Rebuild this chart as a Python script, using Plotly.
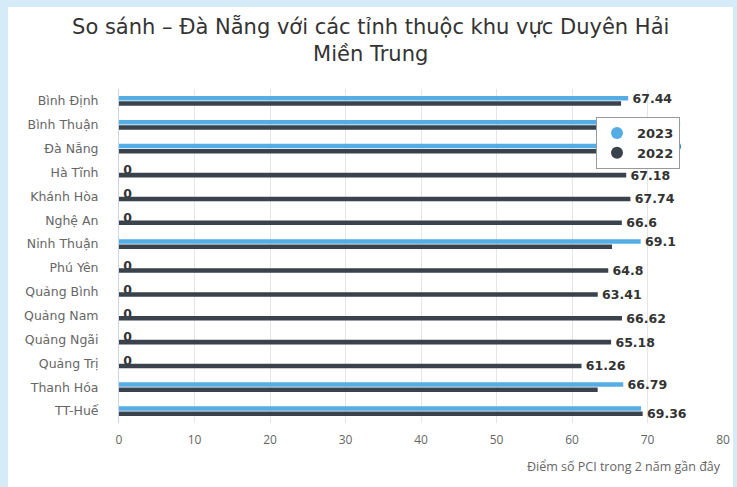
import plotly.graph_objects as go

categories = ["Bình Định", "Bình Thuận", "Đà Nẵng", "Hà Tĩnh", "Khánh Hòa", "Nghệ An",
              "Ninh Thuận", "Phú Yên", "Quảng Bình", "Quảng Nam", "Quảng Ngãi",
              "Quảng Trị", "Thanh Hóa", "TT-Huế"]
v2023 = [67.44, 68.56, 68.69, 0, 0, 0, 69.1, 0, 0, 0, 0, 0, 66.79, 69.15]
v2022 = [66.5, 66.9, 67.2, 67.18, 67.74, 66.6, 65.3, 64.8, 63.41, 66.62, 65.18, 61.26, 63.4, 69.36]
x_ticks = [0, 10, 20, 30, 40, 50, 60, 70, 80]

title_text = "So sánh – Đà Nẵng với các tỉnh thuộc khu vực Duyên Hải<br>Miền Trung"
x_title = "Điểm số PCI trong 2 năm gần đây"

C23 = "#55ade6"
C22 = "#3a424b"

NB = "\u00a0"

def fmt(v):
    return NB + f"{v:g}"

# Overlapping labels: when both bars are non-zero, only the longer one keeps its label
t23, t22 = [], []
for a, b in zip(v2023, v2022):
    if a == 0 or b == 0:
        t23.append(fmt(a))
        t22.append(fmt(b))
    elif a >= b:
        t23.append(fmt(a))
        t22.append("")
    else:
        t23.append("")
        t22.append(fmt(b))

label_font = dict(family="DejaVu Sans", size=12.5, color="#333333", weight="bold")

fig = go.Figure()
fig.add_trace(go.Bar(y=categories, x=v2023, orientation="h", name="2023",
                     marker=dict(color=C23, line=dict(width=0)),
                     text=t23, textposition="outside", textfont=label_font,
                     constraintext="none", cliponaxis=False, showlegend=False))
fig.add_trace(go.Bar(y=categories, x=v2022, orientation="h", name="2022",
                     marker=dict(color=C22, line=dict(width=0)),
                     text=t22, textposition="outside", textfont=label_font,
                     constraintext="none", cliponaxis=False, showlegend=False))
# legend entries with circle symbols
fig.add_trace(go.Scatter(x=[None], y=[None], mode="markers", name="2023",
                         marker=dict(color=C23, size=12, symbol="circle")))
fig.add_trace(go.Scatter(x=[None], y=[None], mode="markers", name="2022",
                         marker=dict(color=C22, size=12, symbol="circle")))

L, R, T, B = 119, 14, 89, 64
W, H = 737, 487
pw, ph = W - L - R, H - T - B

def px_x(p):
    return (p - L) / pw

def px_y(p):
    return (H - B - p) / ph

fig.update_layout(
    width=W, height=H,
    margin=dict(l=L, r=R, t=T, b=B, pad=0),
    paper_bgcolor="#d6ebf8",
    plot_bgcolor="rgba(0,0,0,0)",
    barmode="group", bargap=0.56, bargroupgap=0.14,
    title=dict(text=title_text, x=0.503, xanchor="center", xref="container",
               y=1 - 34 / H, yanchor="top", yref="container",
               font=dict(family="DejaVu Sans", size=21, color="#333333")),
    font=dict(family="DejaVu Sans"),
    xaxis=dict(range=[0, 80], tickvals=x_ticks, ticktext=[str(v) for v in x_ticks],
               showgrid=True, gridcolor="#e6e6e6", gridwidth=1, zeroline=False,
               showline=False, ticks="", ticklabelstandoff=8, automargin=False,
               tickfont=dict(family="Open Sans", size=12, color="#666666")),
    yaxis=dict(categoryorder="array", categoryarray=categories, autorange="reversed",
               showgrid=False, zeroline=False, showline=True, linecolor="#ccd6eb",
               linewidth=1, ticks="", ticklabelstandoff=17, automargin=False,
               tickfont=dict(family="DejaVu Sans", size=12.5, color="#666666")),
    legend=dict(x=px_x(596), y=px_y(117), xanchor="left", yanchor="top",
                bgcolor="white", bordercolor="#999999", borderwidth=1,
                font=dict(family="DejaVu Sans", size=13, color="#333333", weight="bold"),
                itemsizing="constant", tracegroupgap=0),
    shapes=[dict(type="rect", xref="paper", yref="paper", layer="below",
                 x0=px_x(8), x1=px_x(733), y0=px_y(487), y1=px_y(7),
                 fillcolor="white", line=dict(width=0))],
    annotations=[dict(text=x_title, xref="paper", yref="paper", x=1, xanchor="right",
                      y=px_y(466), yanchor="middle", showarrow=False,
                      font=dict(family="Open Sans", size=12.5, color="#666666"))],
)

fig.write_html("out.html", config={"displayModeBar": False},
               post_script="document.body.style.margin='0';")
